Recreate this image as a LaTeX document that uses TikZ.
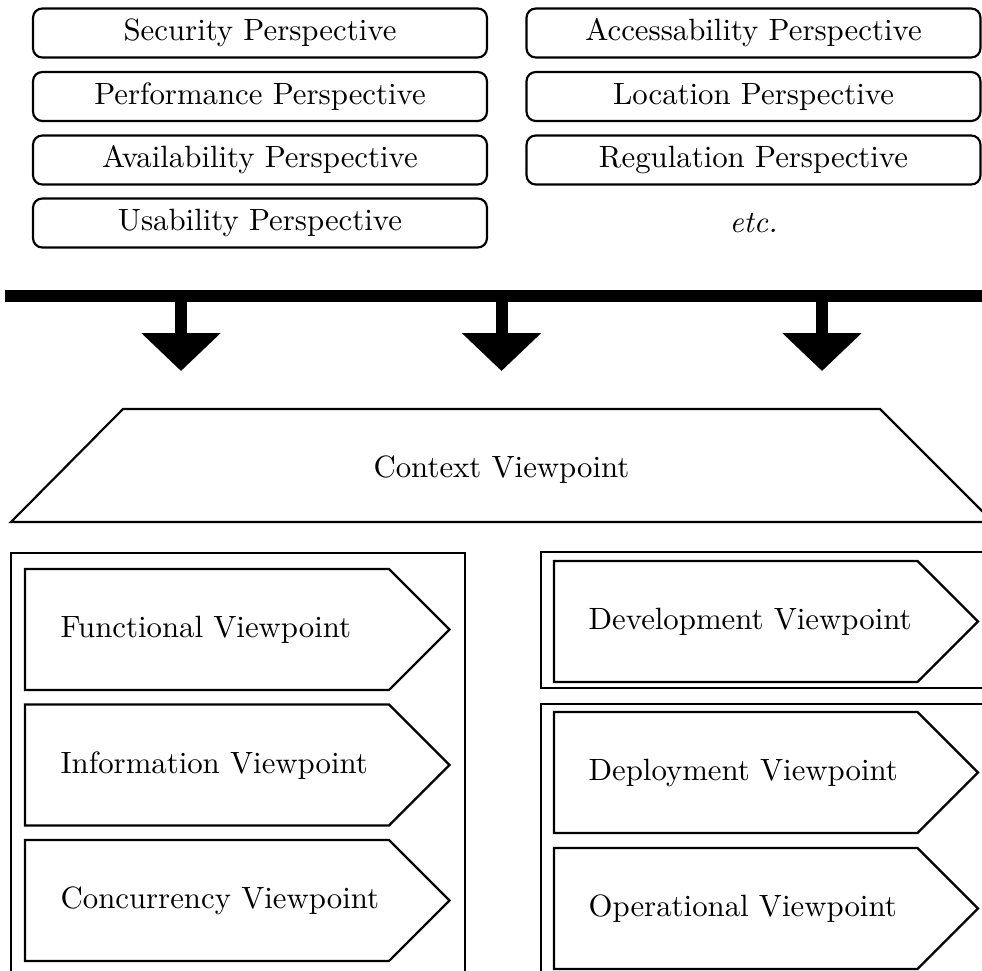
\documentclass[tikz,border=0pt]{standalone}
\usetikzlibrary{arrows.meta}

\tikzset{
  persp/.style={draw, line width=0.7pt, rounded corners=3pt,
    minimum width=147.4pt, minimum height=15.9pt, inner sep=0pt},
  outline/.style={draw, line width=0.7pt},
  vptext/.style={anchor=west, inner sep=0pt},
  push/.style={line width=3.9pt, -{Triangle[width=25pt,length=12.3pt]}},
}

\begin{document}
\begin{tikzpicture}[x=0.3247pt, y=-0.3247pt]
  \useasboundingbox (0,0) rectangle (982,971);
  \clip (0,0) rectangle (982,971);

  % perspectives
  \node[persp] (sec)  at (260,33)  {Security Perspective};
  \node[persp] (perf) at (260,96.5)    {Performance Perspective};
  \node[persp] (avail) at (260,160) {Availability Perspective};
  \node[persp] (usab) at (260,223) {Usability Perspective};
  \node[persp] (acc)  at (753.5,33)  {Accessability Perspective};
  \node[persp] (loc)  at (753.5,96.5)    {Location Perspective};
  \node[persp] (reg)  at (753.5,160) {Regulation Perspective};
  \node (etc) at (753.5,223) {\textit{etc.}};

  % bar applying perspectives to the views
  \fill (5,290) rectangle (995,302);
  \coordinate (b1) at (181,296);
  \coordinate (b2) at (501.5,296);
  \coordinate (b3) at (822,296);
  \coordinate (t1) at (181,371);
  \coordinate (t2) at (501.5,371);
  \coordinate (t3) at (822,371);
  \draw[push] (b1) -- (t1);
  \draw[push] (b2) -- (t2);
  \draw[push] (b3) -- (t3);

  % context viewpoint
  \draw[outline] (11,522) -- (123,409) -- (880,409) -- (993,522) -- cycle;
  \node (ctx) at (501.5,470) {Context Viewpoint};

  % left group
  \draw[outline] (11,553) rectangle (465,995);
  \draw[outline] (25,569) -- (389,569) -- (449.5,629.5) -- (389,690) -- (25,690) -- cycle;
  \draw[outline] (25,704.5) -- (389,704.5) -- (449.5,765) -- (389,825.5) -- (25,825.5) -- cycle;
  \draw[outline] (25,840) -- (389,840) -- (449.5,900.5) -- (389,961) -- (25,961) -- cycle;
  \node[vptext] (func) at (60,630) {Functional Viewpoint};
  \node[vptext] (info) at (60,765.5) {Information Viewpoint};
  \node[vptext] (conc) at (60,901) {Concurrency Viewpoint};

  % right groups
  \draw[outline] (541,552) rectangle (995,688);
  \draw[outline] (554,561) -- (917.5,561) -- (978,621.5) -- (917.5,682) -- (554,682) -- cycle;
  \node[vptext] (dev) at (588,622) {Development Viewpoint};

  \draw[outline] (541,704) rectangle (995,995);
  \draw[outline] (554,712) -- (917.5,712) -- (978,772.5) -- (917.5,833) -- (554,833) -- cycle;
  \draw[outline] (554,848) -- (917.5,848) -- (978,908.5) -- (917.5,969) -- (554,969) -- cycle;
  \node[vptext] (depl) at (588,773) {Deployment Viewpoint};
  \node[vptext] (oper) at (588,909) {Operational Viewpoint};
\end{tikzpicture}
\end{document}
